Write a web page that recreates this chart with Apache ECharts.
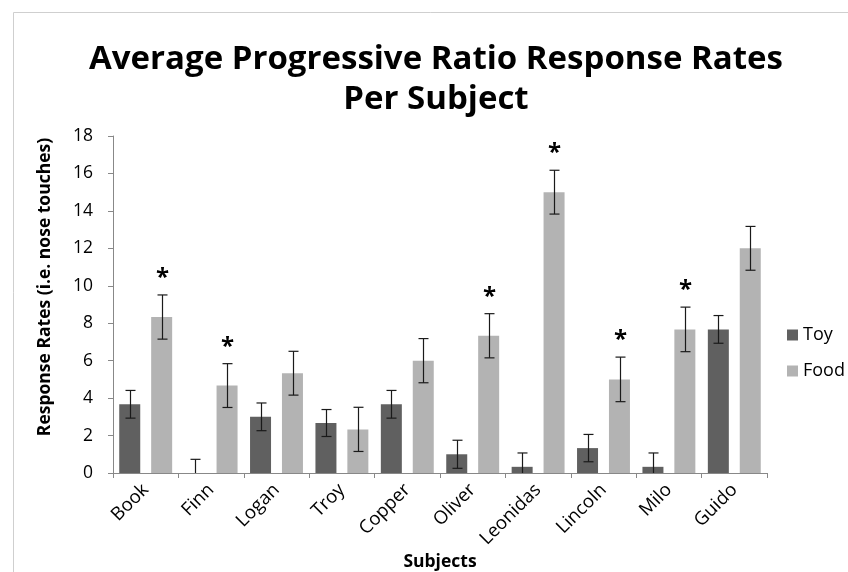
<!DOCTYPE html>
<html><head><meta charset="utf-8">
<script src="https://cdn.jsdelivr.net/npm/echarts@6/dist/echarts.min.js"></script>
<style>html,body{margin:0;padding:0;background:#fff}#c{width:848px;height:572px}</style>
</head><body><div id="c"></div>
<script>
const subjects = ['Book','Finn','Logan','Troy','Copper','Oliver','Leonidas','Lincoln','Milo','Guido'];
const toy = [3.67, 0, 3, 2.67, 3.67, 1, 0.33, 1.33, 0.33, 7.67];
const food = [8.33, 4.67, 5.33, 2.33, 6, 7.33, 15, 5, 7.67, 12];
const toyErr = [0.74, 0.73, 0.74, 0.72, 0.74, 0.75, 0.74, 0.73, 0.74, 0.74];
const foodErr = [1.18, 1.17, 1.17, 1.18, 1.18, 1.18, 1.17, 1.19, 1.19, 1.17];
const significant = [1, 1, 0, 0, 0, 1, 1, 1, 1, 0];
const yTicks = [0, 2, 4, 6, 8, 10, 12, 14, 16, 18];

const FONT = 'Open Sans';
const chart = echarts.init(document.getElementById('c'), null, {renderer: 'canvas'});

function errSeries(vals, errs, offset, showStar) {
  return {
    type: 'custom',
    z: 5,
    data: vals.map((v, i) => [i, v, errs[i], showStar ? significant[i] : 0]),
    renderItem: function (params, api) {
      const i = api.value(0), v = api.value(1), e = api.value(2), s = api.value(3);
      const lo = Math.max(0, v - e), hi = v + e;
      const pTop = api.coord([i, hi]);
      const pBot = api.coord([i, lo]);
      const x = Math.round(pTop[0] + offset) + 0.5;
      const st = {stroke: '#1a1a1a', lineWidth: 1.2};
      const children = [
        {type: 'line', shape: {x1: x, y1: pTop[1], x2: x, y2: pBot[1]}, style: st},
        {type: 'line', shape: {x1: x - 5, y1: pTop[1], x2: x + 5, y2: pTop[1]}, style: st}
      ];
      if (v - e > 0) children.push({type: 'line', shape: {x1: x - 5, y1: pBot[1], x2: x + 5, y2: pBot[1]}, style: st});
      if (s) children.push({type: 'text', style: {text: '*', x: x, y: pTop[1] - 5, fill: '#000', font: 'bold 24px ' + FONT, align: 'center', verticalAlign: 'bottom'}});
      return {type: 'group', children: children};
    }
  };
}

chart.setOption({
  animation: false,
  backgroundColor: '#fff',
  textStyle: {fontFamily: FONT},
  graphic: [
    {type: 'line', shape: {x1: 13.5, y1: 12.5, x2: 848, y2: 12.5}, style: {stroke: '#cfcfcf', lineWidth: 1}},
    {type: 'line', shape: {x1: 13.5, y1: 12.5, x2: 13.5, y2: 572}, style: {stroke: '#cfcfcf', lineWidth: 1}},
    {type: 'text', x: 436, y: 60, style: {text: 'Average Progressive Ratio Response Rates', font: 'bold 33px ' + FONT, fill: '#000', align: 'center', verticalAlign: 'middle'}},
    {type: 'text', x: 436, y: 100, style: {text: 'Per Subject', font: 'bold 33px ' + FONT, fill: '#000', align: 'center', verticalAlign: 'middle'}},
    {type: 'text', x: 45, y: 287, rotation: Math.PI / 2, style: {text: 'Response Rates (i.e. nose touches)', font: 'bold 17.5px ' + FONT, fill: '#000', align: 'center', verticalAlign: 'middle'}},
    {type: 'text', x: 440, y: 562, style: {text: 'Subjects', font: 'bold 17.5px ' + FONT, fill: '#000', align: 'center', verticalAlign: 'middle'}}
  ],
  legend: {
    orient: 'vertical', left: 782, top: 321, itemWidth: 11, itemHeight: 11, itemGap: 18,
    icon: 'rect',
    textStyle: {fontSize: 18, color: '#000', fontFamily: FONT},
    data: ['Toy', 'Food']
  },
  grid: {left: 113, right: 81, top: 136, bottom: 99, containLabel: false},
  xAxis: {
    type: 'category', data: subjects,
    axisLine: {lineStyle: {color: '#888', width: 1}},
    axisTick: {show: true, alignWithLabel: false, length: 5, lineStyle: {color: '#888'}},
    axisLabel: {rotate: 45, fontSize: 18.5, color: '#000', margin: 14, fontFamily: FONT}
  },
  yAxis: {
    type: 'value', min: 0, max: 18, interval: 2,
    axisLine: {show: true, lineStyle: {color: '#888', width: 1}},
    axisTick: {show: true, length: 5, lineStyle: {color: '#888'}},
    splitLine: {show: false},
    axisLabel: {fontSize: 17.5, color: '#000', margin: 20, fontFamily: FONT,
      formatter: v => yTicks.includes(v) ? String(v) : ''}
  },
  series: [
    {name: 'Toy', type: 'bar', data: toy, barWidth: 21, barGap: '52%', itemStyle: {color: '#606060'}},
    {name: 'Food', type: 'bar', data: food, barWidth: 21, barGap: '52%', itemStyle: {color: '#b3b3b3'}},
    errSeries(toy, toyErr, -16, false),
    errSeries(food, foodErr, 16, true)
  ]
});
</script></body></html>
